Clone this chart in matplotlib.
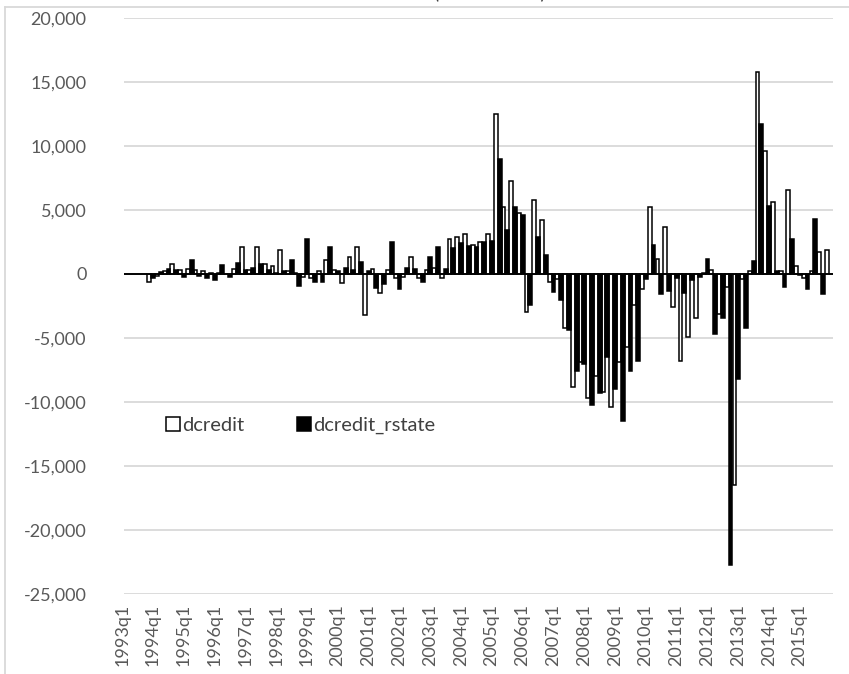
import numpy as np
import matplotlib.pyplot as plt
from matplotlib.ticker import FuncFormatter, MultipleLocator
from matplotlib.transforms import ScaledTranslation
from matplotlib.lines import Line2D

plt.rcParams['font.family'] = ['Lato', 'DejaVu Sans']

# quarterly categories 1993q1 .. 2015q4
quarters = [f"{y}q{q}" for y in range(1993, 2016) for q in range(1, 5)]

dcredit = [
    0, 0, 0, -650, -150, 200, 800, 300, 400, 300, 200, 100,
    100, 0, 400, 2100, 300, 2100, 800, 600, 1900, 250, 100, -200,
    -300, 200, 1100, 300, -700, 1300, 2100, -3200, 400, -1500, 300, -300,
    -200, 1300, -300, 300, 500, -300, 2700, 2900, 3100, 2300, 2500, 3100,
    12500, 5200, 7300, 4800, -3000, 5800, 4200, -600, -400, -4200, -8800, -6900,
    -9700, -8000, -9200, -10400, -6900, -5700, -2400, -1200, 5200, 1200, 3700, -2600,
    -6800, -4900, -3400, 100, 300, -3100, -1000, -16500, -400, 200, 15800, 9600,
    5600, 200, 6600, 600, -300, 200, 1700, 1900,
]

dcredit_rstate = [
    0, 0, 0, -300, 150, 400, 300, -250, 1100, -150, -300, -450,
    700, -250, 850, 300, 500, 800, 300, 100, 200, 1100, -900, 2700,
    -650, -650, 2100, 200, 450, 300, 900, 200, -1100, -800, 2500, -1200,
    450, 400, -600, 1300, 2100, 400, 2000, 2400, 2200, 2100, 2500, 2600,
    9000, 3400, 5200, 4600, -2400, 2900, 1500, -1400, -2000, -4400, -7600, -7000,
    -10200, -9300, -6500, -9000, -11500, -7600, -6800, -400, 2300, -1600, -1300, -300,
    -1500, -500, -200, 1200, -4700, -3400, -22700, -8200, -4200, 1000, 11700, 5300,
    200, -1000, 2700, -100, -1200, 4300, -1600, 0,
]

W, H = 849, 674
fig = plt.figure(figsize=(W / 100, H / 100), dpi=100)
left, right, top, bottom = 124.2, 832.6, 18, 594
ax = fig.add_axes([left / W, 1 - bottom / H, (right - left) / W, (bottom - top) / H])

x = np.arange(len(quarters))
bw = 0.5
ax.bar(x - bw / 2, dcredit, bw, color='white', edgecolor='black',
       linewidth=1.1, label='dcredit', zorder=3)
ax.bar(x + bw / 2, dcredit_rstate, bw, color='black', edgecolor='black',
       linewidth=1.1, label='dcredit_rstate', zorder=3)

ax.set_xlim(-0.5, len(quarters) - 0.5)
ax.set_ylim(-25000, 20000)
ax.yaxis.set_major_locator(MultipleLocator(5000))
ax.yaxis.set_major_formatter(FuncFormatter(lambda v, p: f"{v:,.0f}"))
ax.grid(axis='y', color='#d9d9d9', linewidth=1.3, zorder=0)
ax.axhline(0, color='black', linewidth=1.2, zorder=4)
for s in ax.spines.values():
    s.set_visible(False)

ax.set_xticks(x[::4])
ax.set_xticklabels(quarters[::4], rotation=90)
ax.tick_params(axis='both', length=0, labelsize=13, labelcolor='#595959')
ax.tick_params(axis='x', pad=7)
ax.tick_params(axis='y', pad=27)
shift = ScaledTranslation(-6 / 100, 0, fig.dpi_scale_trans)
for lab in ax.get_xticklabels():
    lab.set_transform(lab.get_transform() + shift)

ax.legend(loc='center left', bbox_to_anchor=(0.059, 0.293), ncol=2, frameon=False,
          fontsize=14.5, handlelength=0.7, handleheight=0.7, handletextpad=0.12,
          columnspacing=2.6, labelcolor='#404040', borderaxespad=0, borderpad=0)

# chart area border and the clipped heading above it
fig.add_artist(Line2D([5 / W, 5 / W], [0, 1 - 7 / H], color='#d9d9d9', linewidth=1.3))
fig.add_artist(Line2D([5 / W, 1], [1 - 7 / H, 1 - 7 / H], color='#d9d9d9', linewidth=1.3))
fig.text(490 / W, 1 + 1.5 / H, "(million euro)", ha='center', va='baseline',
         fontsize=14, color='#404040')

fig.savefig('out.png', dpi=100)
